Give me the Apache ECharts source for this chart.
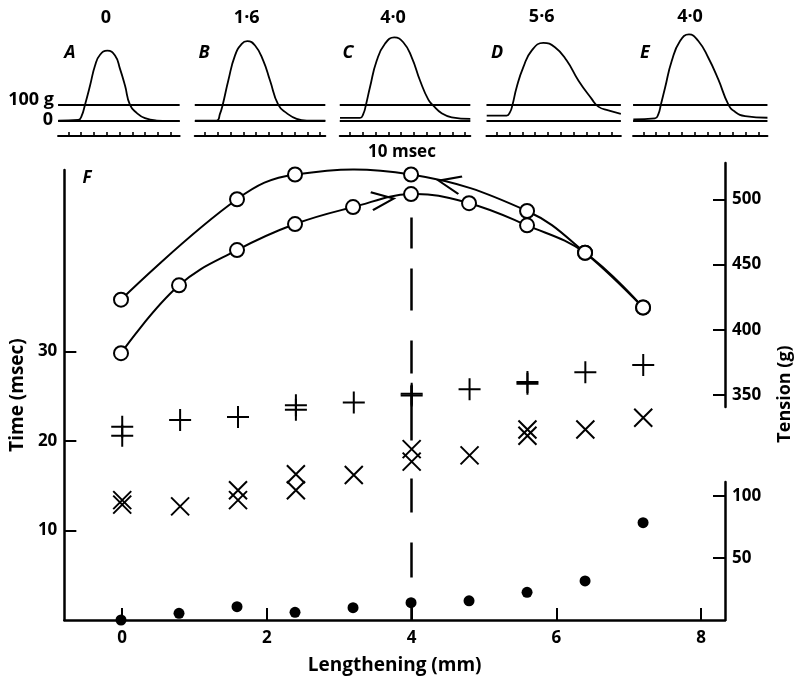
<!DOCTYPE html>
<html><head><meta charset="utf-8">
<script src="https://cdn.jsdelivr.net/npm/echarts@6/dist/echarts.min.js"></script>
<style>html,body{margin:0;padding:0;background:#fff}#chart{width:799px;height:681px}</style>
</head><body><div id="chart"></div>
<script>
// ---------------- data ----------------
const lengthTicks = [0, 2, 4, 6, 8];
const timeTicks = [10, 20, 30];
const tensionTicksHigh = [350, 400, 450, 500];
const tensionTicksLow = [50, 100];

// peak tension (g) while lengthening (outward run)
const tensionOutX = [0, 0.8, 1.6, 2.4, 3.2, 4.0, 4.8, 5.6, 6.4, 7.2];
const tensionOutY = [382, 434, 461, 481, 494, 504, 497, 480, 459, 417];
// peak tension (g) on the return run
const tensionBackX = [7.2, 6.4, 5.6, 4.0, 2.4, 1.6, 0];
const tensionBackY = [417, 459, 491, 519, 519, 500, 423];
// arrowheads on the two tension curves
const arrowX = [3.61, 4.53];
const arrowY = [499.5, 512.5];
const arrowAngle = [7, 168];

// time to peak (msec), "+"
const peakTimeX = [0, 0, 0.8, 1.6, 2.4, 2.4, 3.2, 4.0, 4.0, 4.8, 5.6, 5.6, 6.4, 7.2];
const peakTimeY = [21.6, 20.6, 22.35, 22.7, 24.0, 23.5, 24.3, 25.3, 25.1, 25.8, 26.6, 26.4, 27.7, 28.5];
// time (msec), "x"
const halfTimeX = [0, 0, 0.8, 1.6, 1.6, 2.4, 2.4, 3.2, 4.0, 4.0, 4.8, 5.6, 5.6, 6.4, 7.2];
const halfTimeY = [13.4, 12.9, 12.7, 14.5, 13.4, 16.3, 14.5, 16.2, 19.1, 17.7, 18.4, 21.3, 20.6, 21.3, 22.6];
// tension (g), filled dots, lower scale
const dotX = [0, 0.8, 1.6, 2.4, 3.2, 4.0, 4.8, 5.6, 6.4, 7.2];
const dotY = [0, 5.4, 10.7, 6.2, 9.9, 13.9, 15.4, 22.3, 31.4, 78.3];
// dashed reference line at 4 mm
const refLineX = 4;
const refLineTop = 45;

// twitch records A–E (time in msec, tension in g)
const panelLengthLabels = ['0', '1·6', '4·0', '5·6', '4·0'];
const panelLetters = ['A', 'B', 'C', 'D', 'E'];
const panelTickTimes = [0, 10, 20, 30, 40, 50, 60, 70, 80, 90];
const panelRefLevels = [0, 100];
const panelTimeMax = [87, 94, 94, 97, 97];
const twitchT_A = [-7.8, 7.8, 10.5, 13.0, 17.0, 20.9, 24.8, 30.5, 36.5, 40.4, 44.3, 48.2, 53.4, 59.9, 69.1, 87];
const twitchG_A = [0, 4, 32, 101, 226, 356, 425, 452, 420, 334, 226, 101, 50, 15, 0, -4];
const twitchT_B = [-7.8, 9.1, 11.7, 13.8, 18.2, 23.4, 28.7, 33.0, 39.1, 45.5, 50.8, 57.3, 63.8, 71.6, 79.5, 94];
const twitchG_B = [0, 0, 43, 101, 259, 420, 496, 513, 485, 388, 259, 101, 48, 11, 0, 0];
const twitchT_C = [-7.8, 7.8, 10.4, 12.3, 15.6, 20.9, 27.3, 34.6, 41.6, 48.2, 54.7, 61.2, 65.1, 71.6, 79.5, 94];
const twitchG_C = [17, 17, 43, 96, 215, 388, 496, 538, 506, 409, 259, 135, 96, 47, 21, 11];
const twitchT_D = [-7.8, 7.8, 10.4, 12.2, 15.6, 20.8, 27.3, 36.4, 45.5, 54.7, 63.8, 74.2, 79.4, 87.2, 97];
const twitchG_D = [32, 32, 54, 97, 215, 345, 452, 502, 474, 388, 259, 140, 90, 65, 43];
const twitchT_E = [-7.8, 9.1, 11.7, 13.8, 17.0, 22.2, 28.7, 35.7, 43.0, 50.8, 58.6, 66.4, 71.6, 79.5, 97];
const twitchG_E = [8, 14, 40, 105, 212, 385, 514, 557, 514, 406, 266, 105, 57, 29, 18];

// ---------------- build ----------------
const zip = (a, b) => a.map((v, i) => [v, b[i]]);
const FONT = '"Open Sans"';
const twitchT = [twitchT_A, twitchT_B, twitchT_C, twitchT_D, twitchT_E];
const twitchG = [twitchG_A, twitchG_B, twitchG_C, twitchG_D, twitchG_E];
const panelFirstTick = [68.3, 205, 350, 496.7, 643.3];
const pxPerMs = 1.28;
const panelMin = -8;

const lbl = {color: '#000', fontFamily: FONT, fontSize: 17, fontWeight: 'bold'};
const nameLbl = {color: '#000', fontFamily: FONT, fontSize: 19, fontWeight: 'bold'};
const blackLine = w => ({color: '#000', width: w});

// smooth curve drawn through the data points (positions from the axes)
function curveRenderer(xs, ys, smooth, width) {
  return function (params, api) {
    if (params.dataIndex !== 0) return null;
    const pts = xs.map((x, i) => api.coord([x, ys[i]]));
    return {type: 'polyline', silent: true,
      shape: {points: pts, smooth: smooth},
      style: {stroke: '#000', fill: null, lineWidth: width}};
  };
}

const grids = [
  {left: 63, right: 74, top: 170, bottom: 61},
  {left: 63, right: 74, top: 163, bottom: 274},
  {left: 63, right: 74, top: 482, bottom: 61}
];
const xAxes = [
  {gridIndex: 0, type: 'value', min: -0.8, max: 8.33,
   axisLine: {onZero: false, lineStyle: blackLine(2.5)},
   axisTick: {inside: true, length: 12, customValues: lengthTicks, lineStyle: blackLine(2)},
   axisLabel: Object.assign({customValues: lengthTicks, margin: 10}, lbl),
   splitLine: {show: false},
   name: 'Lengthening (mm)', nameLocation: 'middle', nameGap: 36,
   nameTextStyle: Object.assign({}, nameLbl)},
  {gridIndex: 1, type: 'value', min: -0.8, max: 8.33, show: false},
  {gridIndex: 2, type: 'value', min: -0.8, max: 8.33, show: false}
];
const yAxes = [
  {gridIndex: 0, type: 'value', min: 0, max: 50.3, position: 'left',
   axisLine: {show: true, onZero: false, lineStyle: blackLine(2.5)},
   axisTick: {show: true, inside: true, length: 12, customValues: timeTicks, lineStyle: blackLine(2)},
   axisLabel: Object.assign({customValues: timeTicks, margin: 7}, lbl),
   splitLine: {show: false},
   name: 'Time (msec)', nameLocation: 'middle', nameGap: 36, nameRotate: 90,
   nameTextStyle: Object.assign({}, nameLbl)},
  {gridIndex: 1, type: 'value', min: 340.7, max: 527.8, position: 'right',
   axisLine: {show: true, onZero: false, lineStyle: blackLine(2.5)},
   axisTick: {show: true, inside: true, length: 12, customValues: tensionTicksHigh, lineStyle: blackLine(2)},
   axisLabel: Object.assign({customValues: tensionTicksHigh, margin: 7}, lbl),
   splitLine: {show: false}},
  {gridIndex: 2, type: 'value', min: 0, max: 111, position: 'right',
   axisLine: {show: true, onZero: false, lineStyle: blackLine(2.5)},
   axisTick: {show: true, inside: true, length: 12, customValues: tensionTicksLow, lineStyle: blackLine(2)},
   axisLabel: Object.assign({customValues: tensionTicksLow, margin: 7}, lbl),
   splitLine: {show: false}}
];

const series = [
  {type: 'custom', xAxisIndex: 1, yAxisIndex: 1, data: zip(tensionOutX, tensionOutY),
   renderItem: curveRenderer(tensionOutX, tensionOutY, 0.4, 2), z: 2},
  {type: 'custom', xAxisIndex: 1, yAxisIndex: 1, data: zip(tensionBackX, tensionBackY),
   renderItem: curveRenderer(tensionBackX, tensionBackY, 0.4, 2), z: 2},
  {type: 'scatter', xAxisIndex: 1, yAxisIndex: 1, data: zip(tensionOutX, tensionOutY),
   symbol: 'emptyCircle', symbolSize: 14,
   itemStyle: {color: '#000', borderColor: '#000', borderWidth: 2, opacity: 1}, z: 3},
  {type: 'scatter', xAxisIndex: 1, yAxisIndex: 1, data: zip(tensionBackX, tensionBackY),
   symbol: 'emptyCircle', symbolSize: 14,
   itemStyle: {color: '#000', borderColor: '#000', borderWidth: 2, opacity: 1}, z: 3},
  {type: 'scatter', xAxisIndex: 1, yAxisIndex: 1,
   data: arrowX.map((x, i) => ({value: [x, arrowY[i]], symbolRotate: arrowAngle[i]})),
   symbol: 'path://M0,0L22,9L0,18', symbolSize: [22, 18],
   itemStyle: {color: 'none', borderColor: '#000', borderWidth: 2.2, opacity: 1}, z: 4},
  {type: 'scatter', xAxisIndex: 0, yAxisIndex: 0, data: zip(peakTimeX, peakTimeY),
   symbol: 'path://M0,11L22,11M11,0L11,22', symbolSize: 22,
   itemStyle: {color: 'none', borderColor: '#000', borderWidth: 2, opacity: 1},
   markLine: {silent: true, symbol: ['none', 'none'], label: {show: false},
     lineStyle: {color: '#000', width: 2.5, opacity: 1, type: [31, 20, 42, 30, 33, 12, 55, 38, 34, 30, 35, 23, 20, 0]},
     data: [[{coord: [refLineX, refLineTop]}, {coord: [refLineX, 0]}]]}},
  {type: 'scatter', xAxisIndex: 0, yAxisIndex: 0, data: zip(halfTimeX, halfTimeY),
   symbol: 'path://M0,0L18,18M18,0L0,18', symbolSize: 18,
   itemStyle: {color: 'none', borderColor: '#000', borderWidth: 2, opacity: 1}},
  {type: 'scatter', xAxisIndex: 2, yAxisIndex: 2, data: zip(dotX, dotY),
   symbol: 'circle', symbolSize: 11, itemStyle: {color: '#000', opacity: 1}, z: 4}
];

const graphic = [];
for (let i = 0; i < 5; i++) {
  const gi = 3 + i;
  const left = panelFirstTick[i] + panelMin * pxPerMs;
  const width = (panelTimeMax[i] - panelMin) * pxPerMs;
  grids.push({left: left, width: width, top: 20, height: 116});
  xAxes.push({gridIndex: gi, type: 'value', min: panelMin, max: panelTimeMax[i],
    axisLine: {onZero: false, lineStyle: blackLine(2)},
    axisTick: {inside: true, length: 4, customValues: panelTickTimes, lineStyle: blackLine(1.6)},
    axisLabel: {show: false}, splitLine: {show: false}});
  yAxes.push({gridIndex: gi, type: 'value', min: -100, max: 650, show: false});
  series.push({type: 'line', xAxisIndex: gi, yAxisIndex: gi, data: zip(twitchT[i], twitchG[i]),
    smooth: 0.5, showSymbol: false, lineStyle: blackLine(1.8),
    markLine: {silent: true, symbol: ['none', 'none'], label: {show: false},
      lineStyle: {color: '#000', width: 1.8, type: 'solid', opacity: 1},
      data: panelRefLevels.map(v => ({yAxis: v}))}});
}

const txt = (x, y, text, extra) => ({type: 'text', x: x, y: y, silent: true,
  style: Object.assign({text: text, align: 'center', verticalAlign: 'middle', fill: '#000',
    fontFamily: FONT, fontSize: 18, fontWeight: 'bold'}, extra || {})});
const numPos = [[106, 18], [246.7, 18], [393, 18], [541.7, 17], [690, 17]];
const letPos = [[70, 53], [204, 53], [348, 53], [497, 53], [645, 53]];
for (let i = 0; i < 5; i++) {
  graphic.push(txt(numPos[i][0], numPos[i][1], panelLengthLabels[i]));
  graphic.push(txt(letPos[i][0], letPos[i][1], panelLetters[i], {fontStyle: 'italic', fontSize: 18}));
}
graphic.push(txt(31, 100, '100 g'));
graphic.push(txt(48, 120, '0'));
graphic.push(txt(402, 152, '10 msec', {fontSize: 17}));
graphic.push(txt(87, 178, 'F', {fontStyle: 'italic', fontSize: 17}));
graphic.push(Object.assign(txt(785, 394, 'Tension (g)', {fontSize: 18}), {rotation: Math.PI / 2}));

const chart = echarts.init(document.getElementById('chart'), null, {renderer: 'canvas'});
chart.setOption({
  animation: false,
  backgroundColor: '#fff',
  textStyle: {fontFamily: FONT},
  grid: grids, xAxis: xAxes, yAxis: yAxes, series: series, graphic: graphic
});
</script></body></html>
